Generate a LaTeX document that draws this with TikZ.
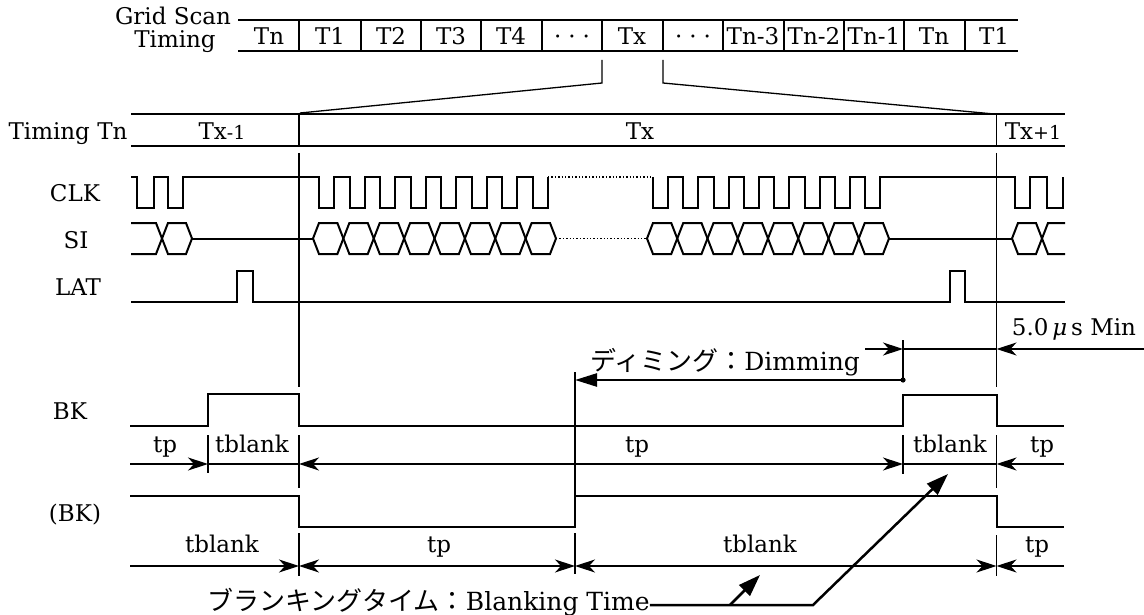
\documentclass[tikz,border=0pt]{standalone}
\usepackage{fontspec}
\setmainfont{DejaVu Serif}
\newfontfamily\jpfont{Noto Sans CJK JP}
\usetikzlibrary{arrows.meta}
\begin{document}
\begin{tikzpicture}[x=1pt,y=-1pt,
  lbl/.style={font=\fontsize{23}{26}\selectfont, inner sep=0pt, anchor=base},
  sig/.style={line width=2pt, line join=miter},
  frame/.style={line width=2pt},
  cellb/.style={line width=1.4pt},
  guide/.style={line width=1.3pt},
  dotsig/.style={line width=1.4pt, dotted},
  dim/.style={line width=1.2pt},
  dimarr/.style={line width=1.2pt, -{Stealth[length=20pt,width=13pt,inset=6pt]}},
  dimboth/.style={line width=1.2pt, {Stealth[length=20pt,width=13pt,inset=6pt]}-{Stealth[length=20pt,width=13pt,inset=6pt]}},
  boldarr/.style={line width=2.5pt, -{Triangle[length=22pt,width=13pt]}},
  leadarr/.style={line width=2.5pt, line join=miter, -{Triangle[length=22pt,width=15pt]}}
]
\useasboundingbox (0,0) rectangle (1144,615);

% ---------- Grid scan row ----------
\draw[frame] (238,20) -- (1018,20);
\draw[frame] (238,51) -- (1018,51);
\foreach \xb in {299,361,421,481,542,602,663,723,784,844,904,965}
  \draw[cellb] (\xb,20) -- (\xb,51);
\node[lbl] (gs1) at (173,25) {Grid Scan};
\node[lbl] (gs2) at (175,48) {Timing};
\node[lbl] (c1) at (269,45) {Tn};
\node[lbl] (c2) at (330,45) {T1};
\node[lbl] (c3) at (391,45) {T2};
\node[lbl] (c4) at (451,45) {T3};
\node[lbl] (c5) at (511,45) {T4};
\node[lbl] (c6) at (572,45) {·\hspace{7pt}·\hspace{7pt}·};
\node[lbl] (c7) at (632,45) {Tx};
\node[lbl] (c8) at (693,45) {·\hspace{7pt}·\hspace{7pt}·};
\node[lbl] (c9) at (753,45) {Tn-3};
\node[lbl] (c10) at (814,45) {Tn-2};
\node[lbl] (c11) at (874,45) {Tn-1};
\node[lbl] (c12) at (934,45) {Tn};
\node[lbl] (c13) at (994,45) {T1};

% zoom bracket
\draw[guide] (602,60) -- (602,83) -- (300,113);
\draw[guide] (663,60) -- (663,83) -- (994,114);

% ---------- Timing Tn row ----------
\draw[frame] (131,114) -- (1065,114);
\draw[frame] (131,146) -- (1065,146);
\draw[guide] (299,114) -- (299,146);
\draw[guide] (996.5,114) -- (996.5,146);
\node[lbl] (ttn) at (68,140) {Timing Tn};
\node[lbl] (txm) at (222,140) {Tx{\fontsize{19}{22}\selectfont -1}};
\node[lbl] (tx) at (640,140) {Tx};
\node[lbl] (txp) at (1033,140) {Tx{\fontsize{19}{22}\selectfont +1}};

% long verticals
\draw[guide] (299,153) -- (299,387);
\draw[guide] (996.5,153) -- (996.5,387);

% ---------- CLK ----------
\node[lbl] (clk) at (75,202) {CLK};
\draw[sig] (131,177) -- (137,177) -- (137,208) -- (154,208) -- (154,177) -- (168,177) -- (168,208) -- (183,208) -- (183,177) -- (319,177)
  \foreach \k in {0,...,7} { -- ({319+30.5*\k},177) -- ({319+30.5*\k},208) -- ({334+30.5*\k},208) -- ({334+30.5*\k},177) };
\draw[dotsig] (548,177) -- (653,177);
\draw[sig] (653,177)
  \foreach \k in {0,...,7} { -- ({653+30.3*\k},177) -- ({653+30.3*\k},208) -- ({668+30.3*\k},208) -- ({668+30.3*\k},177) }
  -- (1015,177) -- (1015,208) -- (1030,208) -- (1030,177) -- (1047,177) -- (1047,208) -- (1063,208) -- (1063,177);

% ---------- SI ----------
\node[lbl] (si) at (76,248) {SI};
\draw[sig] (131,223) -- (156,223) -- (162,238.5) -- (156,254) -- (131,254);
\draw[sig] (162,238.5) -- (168,223) -- (186,223) -- (192,238.5) -- (186,254) -- (168,254) -- cycle;
\draw[sig] (192,238.5) -- (313,238.5);
\foreach \i in {0,...,7} {
  \pgfmathsetmacro\ha{313+30.375*\i}
  \pgfmathsetmacro\hb{313+30.375*(\i+1)}
  \draw[sig] (\ha,238.5) -- (\ha+6,223) -- (\hb-6,223) -- (\hb,238.5) -- (\hb-6,254) -- (\ha+6,254) -- cycle;
}
\draw[dotsig] (556,238.5) -- (647,238.5);
\foreach \i in {0,...,7} {
  \pgfmathsetmacro\ha{647+30.25*\i}
  \pgfmathsetmacro\hb{647+30.25*(\i+1)}
  \draw[sig] (\ha,238.5) -- (\ha+6,223) -- (\hb-6,223) -- (\hb,238.5) -- (\hb-6,254) -- (\ha+6,254) -- cycle;
}
\draw[sig] (889,238.5) -- (1012,238.5);
\draw[sig] (1012,238.5) -- (1018,223) -- (1036,223) -- (1042,238.5) -- (1036,254) -- (1018,254) -- cycle;
\draw[sig] (1065,223) -- (1048,223) -- (1042,238.5) -- (1048,254) -- (1065,254);

% ---------- LAT ----------
\node[lbl] (lat) at (78,295) {LAT};
\draw[sig] (131,302) -- (237,302) -- (237,271) -- (253,271) -- (253,302) -- (950,302) -- (950,271) -- (965,271) -- (965,302) -- (1065,302);

% ---------- 5.0 us Min ----------
\node[lbl] (min) at (1074,335) {5.0\,{\itshape μ}\,s Min};
\draw[dimarr] (865,349) -- (903,349);
\draw[dim] (903,349) -- (996.5,349);
\draw[dimarr] (1144,349) -- (996.5,349);
\draw[guide] (903,340) -- (903,380);
\fill (903,380) circle[radius=2.6pt];

% ---------- Dimming ----------
\node[lbl] (dimtxt) at (725,370) {{\jpfont\fontsize{26}{28}\selectfont ディミング：}{\fontsize{25}{28}\selectfont Dimming}};
\draw[boldarr] (903,380) -- (575,380);
\draw[guide] (575,372) -- (575,496);

% ---------- BK ----------
\node[lbl] (bk) at (70,419) {BK};
\draw[sig] (130,426) -- (208,426) -- (208,394) -- (299,394) -- (299,426) -- (903,426) -- (903,395) -- (996.5,395) -- (996.5,426) -- (1064,426);
\draw[dimarr] (130,464) -- (208,464);
\draw[dim] (208,464) -- (299,464);
\draw[dimboth] (299,464) -- (903,464);
\draw[dim] (903,464) -- (996.5,464);
\draw[dimarr] (1064,464) -- (996.5,464);
\draw[dim] (208,435) -- (208,473);
\draw[dim] (299,435) -- (299,488);
\draw[dim] (903,435) -- (903,474);
\draw[dim] (996.5,435) -- (996.5,488);
\node[lbl] (tp1) at (165,452) {tp};
\node[lbl] (tb1) at (252,452) {tblank};
\node[lbl] (tp2) at (637,452) {tp};
\node[lbl] (tb2) at (950,452) {tblank};
\node[lbl] (tp3) at (1042,452) {tp};

% ---------- (BK) ----------
\node[lbl] (bkn) at (75,521) {(BK)};
\draw[sig] (130,496) -- (299,496) -- (299,527) -- (575,527) -- (575,496) -- (996.5,496) -- (996.5,527) -- (1064,527);
\draw[dimarr] (130,566) -- (299,566);
\draw[dimboth] (299,566) -- (575,566);
\draw[dimboth] (575,566) -- (996.5,566);
\draw[dimarr] (1064,566) -- (996.5,566);
\draw[dim] (299,533) -- (299,576);
\draw[dim] (575,533) -- (575,574);
\draw[dim] (996.5,535) -- (996.5,576);
\node[lbl] (tb3) at (222,552) {tblank};
\node[lbl] (tp4) at (439,552) {tp};
\node[lbl] (tb4) at (760,552) {tblank};
\node[lbl] (tp5) at (1037,552) {tp};

% ---------- Blanking time ----------
\node[lbl, anchor=base west] (blank) at (207,610) {{\jpfont\fontsize{26}{28}\selectfont ブランキングタイム：}{\fontsize{25}{28}\selectfont Blanking Time}};
\draw[leadarr] (blank.east |- 0,605) -- (813,605) -- (948,474);
\draw[leadarr] (730,605) -- (760,575);
\end{tikzpicture}
\end{document}
